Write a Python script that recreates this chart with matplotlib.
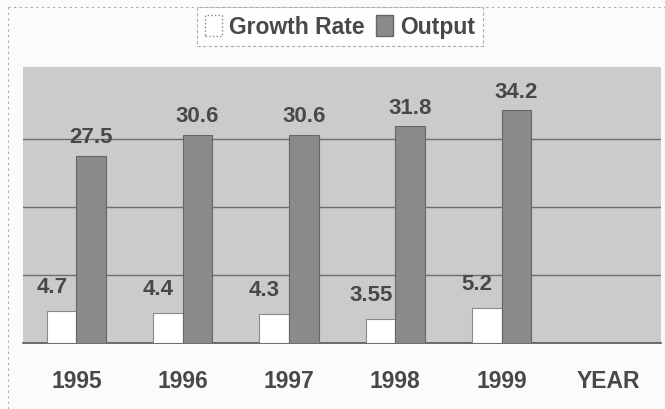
import matplotlib.pyplot as plt
import numpy as np
from matplotlib.lines import Line2D
from matplotlib.patches import Patch

years = ["1995", "1996", "1997", "1998", "1999", "YEAR"]
growth_rate = [4.7, 4.4, 4.3, 3.55, 5.2]
output = [27.5, 30.6, 30.6, 31.8, 34.2]

txt_color = "#484848"
plt.rcParams['font.family'] = ['Liberation Sans', 'DejaVu Sans']
plt.rcParams['font.weight'] = 'bold'

fig = plt.figure(figsize=(6.65, 4.1), dpi=100)
fig.patch.set_facecolor("#fbfbfb")
ax = fig.add_axes([0.035, 0.161, 0.959, 0.673])
ax.set_facecolor("#cbcbcb")

x = np.arange(len(growth_rate))
w = 0.28
b1 = ax.bar(x - w / 2, growth_rate, w, color="white", edgecolor="#8a8a8a", linewidth=0.8, zorder=3)
b2 = ax.bar(x + w / 2, output, w, color="#8a8a8a", edgecolor="#666666", linewidth=0.8, zorder=3)

for rect, v in zip(b1, growth_rate):
    ax.annotate(f"{v:g}", (rect.get_x() + rect.get_width() / 2, rect.get_height()),
                xytext=(-7, 10), textcoords="offset points", ha="center", va="bottom",
                fontsize=16, fontweight="bold", color=txt_color)
for rect, v in zip(b2, output):
    ax.annotate(f"{v:g}", (rect.get_x() + rect.get_width() / 2, rect.get_height()),
                xytext=(0, 6), textcoords="offset points", ha="center", va="bottom",
                fontsize=16, fontweight="bold", color=txt_color)

ax.set_xlim(-0.5, len(years) - 0.5)
ax.set_ylim(0, 40.5)
ax.set_yticks([10, 20, 30])
ax.yaxis.grid(True, color="#6e6e6e", linewidth=1.0, zorder=1)
ax.tick_params(axis="y", left=False, labelleft=False)
ax.set_xticks(np.arange(len(years)))
ax.set_xticklabels(years, fontsize=16.5, fontweight="bold", color=txt_color)
ax.tick_params(axis="x", length=0, pad=19)
for s in ["left", "right", "top"]:
    ax.spines[s].set_visible(False)
ax.spines["bottom"].set_color("#555555")
ax.spines["bottom"].set_linewidth(1.2)

# dotted outer border (left and top)
fig.add_artist(Line2D([8 / 665, 8 / 665], [0, 1 - 8 / 410], transform=fig.transFigure,
                      color="#aaaaaa", linestyle=(0, (2, 3)), linewidth=0.8))
fig.add_artist(Line2D([8 / 665, 1], [1 - 8 / 410, 1 - 8 / 410], transform=fig.transFigure,
                      color="#aaaaaa", linestyle=(0, (2, 3)), linewidth=0.8))

handles = [Patch(facecolor="white", edgecolor="#888888", linestyle=":", label="Growth Rate"),
           Patch(facecolor="#8a8a8a", edgecolor="#666666", label="Output")]
leg = fig.legend(handles=handles, loc="center", bbox_to_anchor=(0.511, 0.932), ncol=2,
                 fontsize=16.5, frameon=True, fancybox=False, handlelength=0.75,
                 handleheight=1.0, handletextpad=0.3, columnspacing=0.5,
                 borderpad=0.35, labelcolor=txt_color)
leg.get_frame().set_edgecolor("#999999")
leg.get_frame().set_linestyle((0, (3, 2)))
leg.get_frame().set_linewidth(0.8)
leg.get_frame().set_facecolor("white")
for t in leg.get_texts():
    t.set_fontweight("bold")

fig.savefig("out.png", dpi=100, facecolor=fig.get_facecolor())
